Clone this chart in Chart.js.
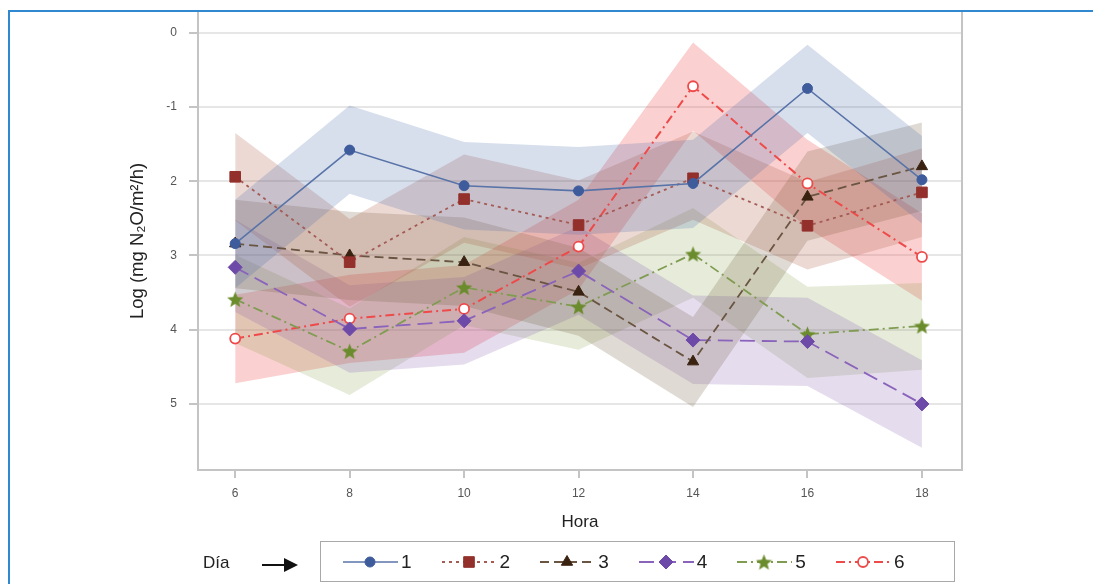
<!DOCTYPE html>
<html>
<head>
<meta charset="utf-8">
<script src="https://cdn.jsdelivr.net/npm/chart.js@4.4.0/dist/chart.umd.min.js"></script>
<style>
  body { margin: 0; background: #fff; font-family: "Liberation Sans", Arial, sans-serif; }
  #wrap { position: relative; width: 1093px; height: 584px; overflow: hidden; }
  #frame { position: absolute; left: 8px; top: 10px; width: 2000px; height: 1000px; border: 2px solid #2f88d0; pointer-events: none; }
  #chart { position: absolute; left: 0; top: 0; }
  #dia { position: absolute; left: 203px; top: 553px; font-size: 17px; color: #222; }
  #arrowLine { position: absolute; left: 262px; top: 564px; width: 24px; height: 2px; background: #111; }
  #arrowHead { position: absolute; left: 284px; top: 558px; width: 0; height: 0; border-top: 7px solid transparent; border-bottom: 7px solid transparent; border-left: 14px solid #111; }
  #legend { position: absolute; left: 320px; top: 541px; width: 635px; height: 41px; border: 1px solid #a8a8a8; display: flex; align-items: center; padding-left: 21px; box-sizing: border-box; }
  .item { display: flex; align-items: center; margin-right: 29px; }
  .item span { font-size: 19px; color: #222; margin-left: 1px; }
</style>
</head>
<body>
<div id="wrap">
  <canvas id="chart" width="1093" height="584"></canvas>
  <div id="frame"></div>
  <div id="dia">Día</div>
  <div id="arrowLine"></div>
  <div id="arrowHead"></div>
  <div id="legend"></div>
</div>
<script>
// horas del día (eje x)
var horas = [6, 8, 10, 12, 14, 16, 18];
var xTicks = [6, 8, 10, 12, 14, 16, 18];
var yTicks = [0, 1, 2, 3, 4, 5];
var yTickLabels = ["0", "-1", "2", "3", "4", "5"];

// valores medios por día
var dia1 = [2.84, 1.58, 2.06, 2.13, 2.03, 0.75, 1.98];
var dia2 = [1.94, 3.09, 2.24, 2.59, 1.96, 2.60, 2.15];
var dia3 = [2.84, 3.00, 3.09, 3.49, 4.43, 2.21, 1.80];
var dia4 = [3.16, 3.99, 3.88, 3.21, 4.14, 4.16, 5.00];
var dia5 = [3.59, 4.29, 3.43, 3.69, 2.98, 4.06, 3.95];
var dia6 = [4.12, 3.85, 3.72, 2.88, 0.72, 2.03, 3.02];

// bandas (limite superior en el grafico / limite inferior)
var dia1Sup = [2.25, 0.98, 1.47, 1.54, 1.44, 0.16, 1.39];
var dia1Inf = [3.44, 2.17, 2.65, 2.72, 2.63, 1.35, 2.57];
var dia2Sup = [1.35, 2.51, 1.64, 1.99, 1.33, 2.01, 1.56];
var dia2Inf = [2.53, 3.69, 2.83, 3.18, 2.52, 3.19, 2.75];
var dia3Sup = [2.25, 2.41, 2.49, 2.90, 3.83, 1.60, 1.21];
var dia3Inf = [3.44, 3.60, 3.68, 4.08, 5.04, 2.80, 2.40];
var dia4Sup = [2.52, 3.40, 3.29, 2.61, 3.54, 3.57, 4.41];
var dia4Inf = [3.76, 4.58, 4.47, 3.80, 4.73, 4.76, 5.59];
var dia5Sup = [2.99, 3.71, 2.75, 3.10, 2.36, 3.42, 3.37];
var dia5Inf = [4.18, 4.88, 3.94, 4.27, 3.57, 4.65, 4.54];
var dia6Sup = [3.53, 3.26, 3.13, 2.25, 0.13, 1.44, 2.43];
var dia6Inf = [4.72, 4.45, 4.31, 3.46, 1.32, 2.63, 3.61];

function pts(vals) {
    return horas.map(function (h, i) { return { x: h, y: vals[i] }; });
}

// filled star for day 5
function makeStar(color, size) {
    var c = document.createElement("canvas");
    c.width = size; c.height = size;
    var g = c.getContext("2d");
    var cx = size / 2, cy = size / 2 + 0.8, ro = size / 2, ri = size / 4.6;
    g.beginPath();
    for (var k = 0; k < 10; k++) {
        var r = k % 2 === 0 ? ro : ri;
        var a = -Math.PI / 2 + k * Math.PI / 5;
        g.lineTo(cx + r * Math.cos(a), cy + r * Math.sin(a));
    }
    g.closePath();
    g.fillStyle = color;
    g.fill();
    return c;
}

var series = [
    { label: "1", data: dia1, sup: dia1Sup, inf: dia1Inf, line: "#5873a8", mark: "#3e5b9c", band: "rgba(74,103,168,0.22)", dash: [], style: "circle", r: 5, bw: 1, fillMark: "#3e5b9c", lw: 1.6 },
    { label: "2", data: dia2, sup: dia2Sup, inf: dia2Inf, line: "#a45a55", mark: "#93302b", band: "rgba(170,80,60,0.22)", dash: [3, 4], style: "rect", r: 7.5, bw: 1, fillMark: "#93302b", lw: 1.8 },
    { label: "3", data: dia3, sup: dia3Sup, inf: dia3Inf, line: "#6a5442", mark: "#3a2211", band: "rgba(110,90,60,0.22)", dash: [9, 5], style: "triangle", r: 6.5, bw: 1, fillMark: "#3a2211", lw: 1.8 },
    { label: "4", data: dia4, sup: dia4Sup, inf: dia4Inf, line: "#8a63bb", mark: "#6e4aa8", band: "rgba(123,82,171,0.2)", dash: [15, 7], style: "rectRot", r: 7, bw: 1, fillMark: "#6e4aa8", lw: 1.8 },
    { label: "5", data: dia5, sup: dia5Sup, inf: dia5Inf, line: "#809c52", mark: "#6b8c2c", band: "rgba(130,155,70,0.2)", dash: [10, 4, 2, 4], style: makeStar("#6b8c2c", 17), r: 8, bw: 0, fillMark: "#6b8c2c", lw: 1.8 },
    { label: "6", data: dia6, sup: dia6Sup, inf: dia6Inf, line: "#ee4a4a", mark: "#ee4a4a", band: "rgba(240,80,80,0.27)", dash: [9, 4, 2, 4], style: "circle", r: 5, bw: 1.8, fillMark: "#ffffff", lw: 2 }
];

var datasets = [];
series.forEach(function (s) {
    datasets.push({ label: "sup" + s.label, data: pts(s.sup), fill: "+1", backgroundColor: s.band,
        borderWidth: 0, pointRadius: 0, order: 1, tension: 0 });
    datasets.push({ label: "inf" + s.label, data: pts(s.inf), fill: false,
        borderWidth: 0, pointRadius: 0, order: 1, tension: 0 });
});
series.forEach(function (s) {
    datasets.push({ label: s.label, data: pts(s.data), fill: false, borderColor: s.line, borderWidth: s.lw,
        borderDash: s.dash, pointStyle: s.style, pointRadius: s.r, pointBorderColor: s.mark,
        pointBackgroundColor: s.fillMark, pointBorderWidth: s.bw, order: 0, tension: 0 });
});

var rightBorder = {
    id: "rightBorder",
    afterDraw: function (chart) {
        var a = chart.chartArea, ctx = chart.ctx;
        ctx.save();
        ctx.strokeStyle = "#c4c4c4";
        ctx.lineWidth = 2;
        ctx.beginPath();
        ctx.moveTo(a.right, a.top);
        ctx.lineTo(a.right, a.bottom);
        ctx.stroke();
        ctx.restore();
    }
};

var CHART = document.getElementById("chart");
var grafico = new Chart(CHART, {
    type: "line",
    data: { datasets: datasets },
    options: {
        responsive: false,
        animation: false,
        devicePixelRatio: 1,
        layout: { padding: { left: 124, right: 131, top: 12, bottom: 48 } },
        plugins: { legend: { display: false }, tooltip: { enabled: false } },
        scales: {
            x: {
                type: "linear", min: 5.35, max: 18.7,
                afterBuildTicks: function (axis) { axis.ticks = xTicks.map(function (v) { return { value: v }; }); },
                afterFit: function (axis) { axis.height = 66; axis.paddingLeft = 0; axis.paddingRight = 0; },
                grid: { drawOnChartArea: false, tickLength: 8, tickColor: "#c4c4c4", lineWidth: 2 },
                border: { color: "#c4c4c4", width: 2 },
                ticks: { color: "#555", font: { family: "Liberation Sans", size: 12 }, padding: 8 },
                title: { display: true, text: "Hora", color: "#222", font: { family: "Liberation Sans", size: 17 }, padding: { top: 4, bottom: 3 } }
            },
            y: {
                type: "linear", reverse: true, min: -0.28, max: 5.89,
                afterBuildTicks: function (axis) { axis.ticks = yTicks.map(function (v) { return { value: v }; }); },
                afterFit: function (axis) { axis.width = 74; axis.paddingTop = 0; axis.paddingBottom = 0; },
                grid: { color: "#e6e6e6", lineWidth: 2, tickLength: 9, tickColor: "#c4c4c4" },
                border: { color: "#c4c4c4", width: 2 },
                ticks: {
                    color: "#555", font: { family: "Liberation Sans", size: 12 }, padding: 12,
                    callback: function (value) { return yTickLabels[yTicks.indexOf(value)]; }
                },
                title: { display: true, text: "Log (mg N\u2082O/m\u00b2/h)", color: "#222", font: { family: "Liberation Sans", size: 18.5 }, padding: { top: 3, bottom: 4 } }
            }
        }
    },
    plugins: [rightBorder]
});

// legend built from the same series styles
var LEG = document.getElementById("legend");
series.forEach(function (s) {
    var item = document.createElement("div");
    item.className = "item";
    var c = document.createElement("canvas");
    c.width = 58; c.height = 22;
    var g = c.getContext("2d");
    g.strokeStyle = s.line;
    g.lineWidth = s.lw;
    g.setLineDash(s.dash);
    g.beginPath();
    g.moveTo(1, 11); g.lineTo(56, 11);
    g.stroke();
    g.setLineDash([]);
    g.fillStyle = s.fillMark;
    g.strokeStyle = s.mark;
    g.lineWidth = s.bw;
    if (Chart.helpers && Chart.helpers.drawPoint) {
        Chart.helpers.drawPoint(g, { pointStyle: s.style, radius: s.r, rotation: 0, borderWidth: s.bw }, 28, 11);
    }
    var t = document.createElement("span");
    t.textContent = s.label;
    item.appendChild(c);
    item.appendChild(t);
    LEG.appendChild(item);
});
</script>
</body>
</html>
